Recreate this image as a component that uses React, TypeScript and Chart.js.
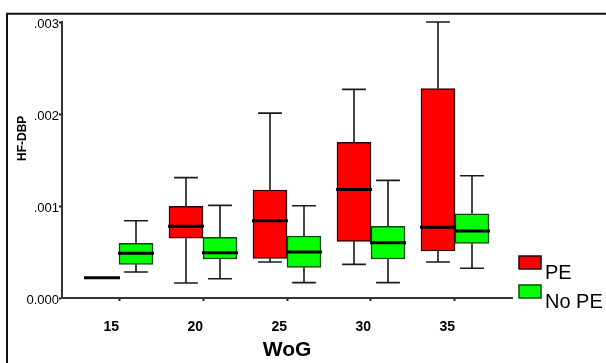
import React, { useEffect, useRef } from 'react';
import { Chart, registerables } from 'chart.js';

Chart.register(...registerables);

// ---- data ----
const categories = [15, 20, 25, 30, 35];
const yTicks = [0, 0.001, 0.002, 0.003];
const seriesLabels = ['PE', 'No PE'];

const peMin = [0.00022, 0.000163, 0.000391, 0.000366, 0.000391];
const peQ1 = [0.00022, 0.000649, 0.000431, 0.000616, 0.000511];
const peMedian = [0.00022, 0.000779, 0.00084, 0.001178, 0.000768];
const peQ3 = [0.00022, 0.000997, 0.001174, 0.001692, 0.002275];
const peMax = [0.00022, 0.001308, 0.00201, 0.002268, 0.003];

const noPeMin = [0.000283, 0.00021, 0.000167, 0.000167, 0.000323];
const noPeQ1 = [0.000366, 0.000424, 0.000333, 0.000424, 0.000594];
const noPeMedian = [0.000486, 0.000493, 0.0005, 0.000601, 0.000728];
const noPeQ3 = [0.000595, 0.00066, 0.000674, 0.000779, 0.000916];
const noPeMax = [0.00084, 0.001007, 0.001003, 0.001279, 0.001329];

const FONT = "'Liberation Sans', Arial, Helvetica, sans-serif";

const framePlugin = {
  id: 'frame',
  beforeDraw(chart: any) {
    const ctx = chart.ctx;
    ctx.save();
    ctx.strokeStyle = '#111';
    ctx.lineWidth = 2;
    ctx.beginPath();
    ctx.moveTo(7, chart.height);
    ctx.lineTo(7, 13.7);
    ctx.lineTo(chart.width, 13.7);
    ctx.stroke();
    ctx.restore();
  },
};

const boxPlugin = {
  id: 'boxWhiskers',
  beforeDatasetsDraw(chart: any) {
    const ctx = chart.ctx;
    const ys = chart.scales.y;
    ctx.save();
    ctx.strokeStyle = '#1a1a1a';
    ctx.lineWidth = 1.6;
    chart.data.datasets.forEach((ds: any, di: number) => {
      const meta = chart.getDatasetMeta(di);
      meta.data.forEach((el: any, i: number) => {
        const x = el.x;
        const cap = el.width * 0.35;
        const yMax = ys.getPixelForValue(ds.stats.max[i]);
        const yMin = ys.getPixelForValue(ds.stats.min[i]);
        const yQ3 = ys.getPixelForValue(ds.stats.q3[i]);
        const yQ1 = ys.getPixelForValue(ds.stats.q1[i]);
        ctx.beginPath();
        ctx.moveTo(x, yQ3);
        ctx.lineTo(x, yMax);
        ctx.moveTo(x - cap, yMax);
        ctx.lineTo(x + cap, yMax);
        ctx.moveTo(x, yQ1);
        ctx.lineTo(x, yMin);
        ctx.moveTo(x - cap, yMin);
        ctx.lineTo(x + cap, yMin);
        ctx.stroke();
      });
    });
    ctx.restore();
  },
  afterDatasetsDraw(chart: any) {
    const ctx = chart.ctx;
    const ys = chart.scales.y;
    ctx.save();
    ctx.strokeStyle = '#000';
    ctx.lineWidth = 3;
    chart.data.datasets.forEach((ds: any, di: number) => {
      const meta = chart.getDatasetMeta(di);
      meta.data.forEach((el: any, i: number) => {
        const y = ys.getPixelForValue(ds.stats.median[i]);
        ctx.beginPath();
        ctx.moveTo(el.x - el.width / 2 - 1, y);
        ctx.lineTo(el.x + el.width / 2 + 1, y);
        ctx.stroke();
      });
    });
    ctx.restore();
  },
};

const legendPlugin = {
  id: 'sideLegend',
  afterDraw(chart: any) {
    const ctx = chart.ctx;
    const area = chart.chartArea;
    ctx.save();
    chart.data.datasets.forEach((ds: any, di: number) => {
      const bx = area.right + 7;
      const by = 256 + di * 29;
      ctx.fillStyle = ds.backgroundColor;
      ctx.fillRect(bx, by, 22, 13);
      ctx.strokeStyle = ds.borderColor;
      ctx.lineWidth = 1.5;
      ctx.strokeRect(bx, by, 22, 13);
      ctx.fillStyle = '#000';
      ctx.font = `20px ${FONT}`;
      ctx.textAlign = 'left';
      ctx.textBaseline = 'alphabetic';
      ctx.fillText(ds.label, bx + 26, by + 23);
    });
    ctx.restore();
  },
};

export default function App() {
  const ref = useRef<HTMLCanvasElement | null>(null);

  useEffect(() => {
    if (!ref.current) return;
    const chart = new Chart(ref.current, {
      type: 'bar',
      data: {
        datasets: [
          {
            label: seriesLabels[0],
            data: categories.map((c, i) => ({ x: c, y: [peQ1[i], peQ3[i]] })),
            backgroundColor: '#ff0000',
            borderColor: '#2a0000',
            borderWidth: 1.5,
            borderSkipped: false,
            barThickness: 34,
            stats: { min: peMin, q1: peQ1, median: peMedian, q3: peQ3, max: peMax },
          } as any,
          {
            label: seriesLabels[1],
            data: categories.map((c, i) => ({ x: c, y: [noPeQ1[i], noPeQ3[i]] })),
            backgroundColor: '#00ff00',
            borderColor: '#0b4a0b',
            borderWidth: 1.5,
            borderSkipped: false,
            barThickness: 34,
            stats: { min: noPeMin, q1: noPeQ1, median: noPeMedian, q3: noPeQ3, max: noPeMax },
          } as any,
        ],
      },
      options: {
        responsive: false,
        animation: false,
        devicePixelRatio: 1,
        layout: { padding: { left: 0, top: 22, right: 94, bottom: 0 } },
        plugins: { legend: { display: false }, tooltip: { enabled: false } },
        scales: {
          x: {
            type: 'linear',
            offset: false,
            min: 11.607,
            max: 38.393,
            afterBuildTicks: (s: any) => {
              s.ticks = categories.map((v) => ({ value: v }));
            },
            afterFit: (s: any) => {
              s.height = 65;
            },
            grid: {
              offset: false,
              drawOnChartArea: false,
              drawTicks: true,
              tickLength: 3,
              tickWidth: 2,
              tickColor: '#222',
            },
            border: { display: true, color: '#333', width: 2 },
            ticks: {
              align: 'end',
              padding: 18,
              color: '#000',
              font: { family: FONT, size: 14, weight: 'bold' },
              callback: (v: any) => String(v),
            },
            title: {
              display: true,
              text: 'WoG',
              color: '#000',
              font: { family: FONT, size: 21, weight: 'bold' },
              padding: { top: 0, bottom: 0 },
            },
          } as any,
          y: {
            type: 'linear',
            min: 0,
            max: 0.003,
            afterBuildTicks: (s: any) => {
              s.ticks = yTicks.map((v) => ({ value: v }));
            },
            afterFit: (s: any) => {
              s.width = 62;
            },
            grid: {
              drawOnChartArea: false,
              drawTicks: true,
              tickLength: 3,
              tickWidth: 2,
              tickColor: '#222',
            },
            border: { display: true, color: '#333', width: 2 },
            ticks: {
              padding: 0,
              labelOffset: 2,
              color: '#000',
              font: { family: FONT, size: 13 },
              callback: (v: any) => {
                const n = Number(v);
                if (n === 0) return '0.000';
                return '.' + n.toFixed(3).split('.')[1];
              },
            },
            title: {
              display: true,
              text: ' '.repeat(13) + 'HF-DBP',
              color: '#000',
              font: { family: FONT, size: 12, weight: 'bold' },
              padding: { top: 15, bottom: 0 },
            },
          } as any,
        },
      },
      plugins: [framePlugin, boxPlugin, legendPlugin],
    });
    return () => chart.destroy();
  }, []);

  return (
    <div style={{ position: 'absolute', left: 0, top: 0, width: 606, height: 363, background: '#fff' }}>
      <canvas ref={ref} width={606} height={363} style={{ display: 'block' }} />
    </div>
  );
}
